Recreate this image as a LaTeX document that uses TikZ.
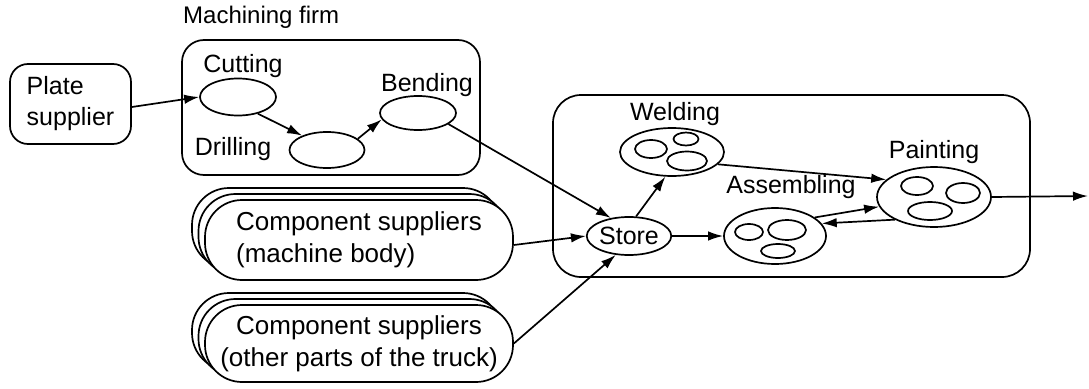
\documentclass[tikz,border=0pt]{standalone}
\usepackage{fontspec}
\setmainfont{Liberation Sans}
\usetikzlibrary{shapes.geometric,arrows.meta}
\begin{document}
\begin{tikzpicture}[x=1pt,y=-1pt,
  every node/.style={font=\fontsize{25}{31}\selectfont, inner sep=0pt},
  line/.style={line width=1.7pt},
  flow/.style={line, -{Latex[length=15pt,width=9.5pt]}},
  proc/.style={ellipse, draw, line width=1.7pt},
  sub/.style={ellipse, draw, line width=1.7pt},
  frame/.style={draw, line width=1.7pt, rectangle},
  supp/.style={draw, line width=1.7pt, fill=white, rounded corners=37pt,
    minimum width=308pt, minimum height=80pt,
    font=\fontsize{26}{32}\selectfont}]
\useasboundingbox (0,0) rectangle (1089,388);

% machining firm
\node[anchor=west, font=\fontsize{24}{29}\selectfont] (mflabel) at (183,17) {Machining firm};
\node[frame, rounded corners=22pt, minimum width=298pt, minimum height=135pt] (mf) at (331,107.5) {};

% plate supplier
\node[frame, rounded corners=18pt, minimum width=121pt, minimum height=80pt, align=left] (plate) at (70.5,104) {Plate\\supplier};

% machining steps
\node[proc, minimum width=76pt, minimum height=37pt] (cut) at (238,97) {};
\node (cutl) at (243,66) {Cutting};
\node[proc, minimum width=75pt, minimum height=36pt] (drill) at (327,150) {};
\node (drilll) at (233,149) {Drilling};
\node[proc, minimum width=76pt, minimum height=34pt] (bend) at (418,113) {};
\node (bendl) at (427,85) {Bending};

% component suppliers (stacked)
\foreach \dx/\dy in {-13/-12,-6.5/-6}{
  \node[supp] at (359+\dx,240+\dy) {};
  \node[supp, minimum height=77pt] at (359+\dx,343.5+\dy) {};
}
\node[supp, align=left] (c1) at (359,240) {Component suppliers\\(machine body)};
\node[supp, minimum height=77pt, align=center] (c2) at (359,343.5) {Component suppliers\\(other parts of the truck)};

% assembly plant
\node[frame, rounded corners=28pt, minimum width=477pt, minimum height=182pt] (plant) at (791.5,186) {};

\node[proc, minimum width=78pt, minimum height=38pt] (store) at (629,236) {Store};

\node[proc, minimum width=104pt, minimum height=48pt] (weld) at (672,152) {};
\node (weldl) at (675,114) {Welding};
\node[sub, minimum width=32pt, minimum height=18pt] (w1) at (651,149) {};
\node[sub, minimum width=25pt, minimum height=13pt] (w2) at (686,139) {};
\node[sub, minimum width=40pt, minimum height=19pt] (w3) at (687,161) {};

\node[proc, minimum width=102pt, minimum height=56pt] (asm) at (775,236) {};
\node (asml) at (791,187) {Assembling};
\node[sub, minimum width=28pt, minimum height=16pt] (a1) at (749,232) {};
\node[sub, minimum width=38pt, minimum height=20pt] (a2) at (787,230) {};
\node[sub, minimum width=34pt, minimum height=14pt] (a3) at (778,251) {};

\node[proc, minimum width=114pt, minimum height=60pt] (paint) at (934,197) {};
\node (paintl) at (934,152) {Painting};
\node[sub, minimum width=32pt, minimum height=18pt] (p1) at (917,186) {};
\node[sub, minimum width=34pt, minimum height=20pt] (p2) at (963,193) {};
\node[sub, minimum width=44pt, minimum height=18pt] (p3) at (930,211) {};

\coordinate (out) at (1088,196);

% flows
\draw[flow] (plate.east) ++(0,3) -- (cut.west);
\draw[flow] (cut.-40) -- (drill.150);
\draw[flow] (drill.20) -- (bend.190);
\draw[flow] (bend.-20) -- (store.135);
\draw[flow] (c1.east) ++(0,5) -- (store.west);
\draw[flow] (c2.east) -- (store.-125);
\draw[flow] (store.70) -- (weld.-105);
\draw[flow] (store.east) -- (asm.west);
\draw[flow] (weld.-15) -- (paint.160);
\draw[flow] (asm.25) -- (paint.190);
\draw[flow] (paint.-150) -- (asm.15);
\draw[flow] (paint.east) -- (out);
\end{tikzpicture}
\end{document}
